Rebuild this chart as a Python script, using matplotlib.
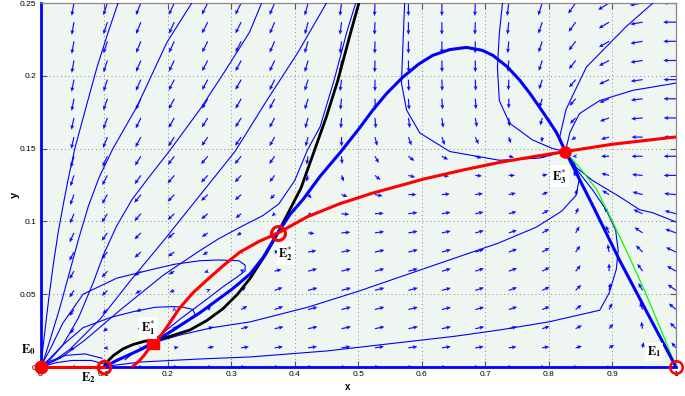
import numpy as np
import matplotlib
matplotlib.use("Agg")
import matplotlib.pyplot as plt

plt.rcParams['mathtext.fontset'] = 'stix'

# ---------------- data ----------------
x_ticks = [0, 0.1, 0.2, 0.3, 0.4, 0.5, 0.6, 0.7, 0.8, 0.9, 1.0]
x_tick_labels = ["0", "0.1", "0.2", "0.3", "0.4", "0.5", "0.6", "0.7", "0.8", "0.9", "1"]
y_ticks = [0, 0.05, 0.1, 0.15, 0.2, 0.25]
y_tick_labels = ["0", "0.05", "0.1", "0.15", "0.2", "0.25"]

# equilibria
eq_E0 = (0.0, 0.0)
eq_E2 = (0.1, 0.0)
eq_E1s = (0.177, 0.0165)
eq_E2s = (0.373, 0.0918)
eq_E3s = (0.826, 0.148)
eq_E1 = (1.0, 0.0)

# red curve
red_axis_x = [0.0, 0.1]
red_axis_y = [0.0, 0.0]
red_x = [0.144, 0.155, 0.163, 0.169, 0.177, 0.19, 0.199, 0.219, 0.24, 0.262, 0.29, 0.314, 0.345, 0.373,
         0.419, 0.47, 0.523, 0.565, 0.602, 0.667, 0.722, 0.78, 0.826, 0.9, 0.95, 1.0]
red_y = [0.0, 0.004, 0.008, 0.0117, 0.0165, 0.022, 0.0275, 0.0405, 0.051, 0.0598, 0.0705, 0.079, 0.0865, 0.0918,
         0.103, 0.112, 0.1195, 0.1245, 0.129, 0.1355, 0.1405, 0.1448, 0.148, 0.153, 0.1555, 0.158]

# black separatrix
black_x = [0.1, 0.107, 0.115, 0.13, 0.146, 0.165, 0.177, 0.2, 0.235, 0.262, 0.287, 0.31, 0.33, 0.356, 0.373,
           0.39, 0.41, 0.428, 0.45, 0.468, 0.487, 0.501]
black_y = [0.0, 0.0045, 0.008, 0.0125, 0.0155, 0.0178, 0.0178, 0.0205, 0.0254, 0.032, 0.040, 0.050, 0.061, 0.0785,
           0.0918, 0.106, 0.123, 0.145, 0.172, 0.197, 0.228, 0.25]

# thick blue curve
blue_x = [0.1, 0.12, 0.14, 0.16, 0.177, 0.2, 0.225, 0.25, 0.275, 0.3, 0.314, 0.33, 0.35, 0.373, 0.393, 0.413,
          0.44, 0.471, 0.5, 0.523, 0.545, 0.57, 0.595, 0.617, 0.644, 0.67, 0.695, 0.712, 0.735, 0.754, 0.77,
          0.785, 0.8, 0.812, 0.826, 0.87, 0.911, 0.955, 1.0]
blue_y = [0.0, 0.0045, 0.0085, 0.0125, 0.0165, 0.023, 0.030, 0.037, 0.045, 0.053, 0.058, 0.064, 0.075, 0.0918,
          0.105, 0.115, 0.131, 0.147, 0.163, 0.1765, 0.188, 0.199, 0.208, 0.214, 0.218, 0.2195, 0.2175, 0.214,
          0.206, 0.197, 0.188, 0.1786, 0.169, 0.161, 0.148, 0.110, 0.0735, 0.037, 0.0]

# green curve
green_x = [0.826, 0.85, 0.875, 0.9, 0.925, 0.95, 0.975, 1.0]
green_y = [0.148, 0.136, 0.122, 0.1, 0.077, 0.053, 0.027, 0.0]

# thin trajectories
t1_x = [0.122, 0.105, 0.089, 0.072, 0.054, 0.044, 0.036, 0.028, 0.02, 0.013, 0.007, 0.003, 0.0]
t1_y = [0.25, 0.228, 0.206, 0.179, 0.150, 0.130, 0.112, 0.093, 0.070, 0.047, 0.025, 0.01, 0.0]
t2_x = [0.238, 0.199, 0.152, 0.114, 0.092, 0.075, 0.06, 0.045, 0.03, 0.016, 0.006, 0.0]
t2_y = [0.25, 0.223, 0.179, 0.150, 0.130, 0.110, 0.088, 0.064, 0.040, 0.02, 0.006, 0.0]
t3_x = [0.348, 0.329, 0.29, 0.251, 0.204, 0.17, 0.144, 0.12, 0.10, 0.083, 0.06, 0.035, 0.015, 0.0]
t3_y = [0.25, 0.23, 0.203, 0.177, 0.149, 0.13, 0.115, 0.097, 0.078, 0.058, 0.034, 0.015, 0.005, 0.0]
t4_x = [0.450, 0.405, 0.356, 0.306, 0.251, 0.196, 0.141, 0.094, 0.046, 0.02, 0.0]
t4_y = [0.25, 0.216, 0.183, 0.148, 0.118, 0.088, 0.059, 0.033, 0.012, 0.004, 0.0]
t5_x = [0.496, 0.482, 0.462, 0.44, 0.42, 0.40, 0.375, 0.35, 0.314, 0.28, 0.251, 0.193, 0.125, 0.07, 0.031, 0.0]
t5_y = [0.25, 0.23, 0.197, 0.165, 0.149, 0.128, 0.112, 0.104, 0.096, 0.088, 0.080, 0.063, 0.039, 0.0185, 0.006, 0.0]
loop_big_x = [0.18, 0.22, 0.26, 0.29, 0.31, 0.322, 0.322, 0.312, 0.28, 0.251, 0.21, 0.172, 0.12, 0.067, 0.035, 0.015, 0.0]
loop_big_y = [0.019, 0.033, 0.046, 0.056, 0.062, 0.066, 0.070, 0.073, 0.0735, 0.073, 0.0705, 0.0666, 0.061, 0.050, 0.030, 0.012, 0.0]
loop_small_x = [0.133, 0.146, 0.165, 0.188, 0.21, 0.23, 0.243, 0.24, 0.225, 0.209, 0.18, 0.146, 0.11, 0.067, 0.035, 0.015, 0.0]
loop_small_y = [0.005, 0.0096, 0.0145, 0.0195, 0.025, 0.031, 0.036, 0.0395, 0.041, 0.0415, 0.041, 0.038, 0.034, 0.027, 0.015, 0.006, 0.0]
low_a_x = [0.1, 0.08, 0.05, 0.025, 0.0]
low_a_y = [0.002, 0.0045, 0.0045, 0.003, 0.0]
low_b_x = [0.097, 0.07, 0.04, 0.015, 0.0]
low_b_y = [0.006, 0.009, 0.008, 0.004, 0.0]
m_x = [0.177, 0.22, 0.27, 0.33, 0.42, 0.50, 0.58, 0.66, 0.72, 0.78, 0.82, 0.843, 0.848, 0.84, 0.826]
m_y = [0.0165, 0.022, 0.027, 0.031, 0.041, 0.052, 0.064, 0.076, 0.085, 0.096, 0.107, 0.118, 0.13, 0.14, 0.148]
n_x = [0.103, 0.157, 0.25, 0.33, 0.45, 0.55, 0.65, 0.722, 0.8, 0.88, 0.895, 0.906, 0.909, 0.905, 0.89, 0.869, 0.843, 0.826]
n_y = [0.0005, 0.0034, 0.0055, 0.0069, 0.011, 0.016, 0.021, 0.0254, 0.031, 0.039, 0.051, 0.067, 0.08, 0.094, 0.108, 0.1215, 0.136, 0.148]
u1_x = [0.573, 0.570, 0.568, 0.576, 0.597, 0.644, 0.722, 0.785, 0.826]
u1_y = [0.25, 0.218, 0.195, 0.1765, 0.1607, 0.148, 0.142, 0.1435, 0.148]
u2_x = [0.727, 0.722, 0.719, 0.722, 0.738, 0.774, 0.806, 0.826]
u2_y = [0.25, 0.229, 0.206, 0.183, 0.1675, 0.156, 0.150, 0.148]
r1_x = [0.969, 0.922, 0.859, 0.827, 0.817, 0.826]
r1_y = [0.252, 0.234, 0.206, 0.177, 0.158, 0.148]
r2_x = [1.0, 0.932, 0.88, 0.848, 0.833, 0.826]
r2_y = [0.195, 0.19, 0.183, 0.174, 0.161, 0.148]
r3_x = [1.0, 0.963, 0.943, 0.911, 0.869, 0.843, 0.826]
r3_y = [0.0996, 0.106, 0.108, 0.117, 0.128, 0.137, 0.148]

thin_traj = [(t1_x, t1_y), (t2_x, t2_y), (t3_x, t3_y), (t4_x, t4_y), (t5_x, t5_y),
             (loop_big_x, loop_big_y), (loop_small_x, loop_small_y), (low_a_x, low_a_y), (low_b_x, low_b_y),
             (m_x, m_y), (n_x, n_y), (u1_x, u1_y), (u2_x, u2_y), (r1_x, r1_y), (r2_x, r2_y), (r3_x, r3_y)]

# direction field (screen angle in degrees, relative length), rows from y=0 to y=0.25
arrow_angle_deg = [
    [0, 180, 0, 0, 0, 0, 0, 0, 0, 0, 0, 0, 0, 0, 0, 0, 0, 0, 0, 0],
    [-90, -150, -170, 0, 10, 10, 8, 8, 8, 8, 8, 8, 8, 8, 8, 10, 15, 30, 80, 130],
    [-90, -130, -150, -175, 45, 20, 15, 12, 12, 12, 12, 12, 12, 12, 14, 18, 28, 50, 100, 135],
    [-90, -125, -140, -155, 90, 45, 30, 20, 15, 15, 15, 14, 14, 15, 18, 22, 38, 65, 110, 140],
    [-90, -122, -135, -148, -158, 20, 35, 20, 15, 15, 15, 15, 15, 18, 20, 25, 45, 80, 120, 145],
    [-90, -120, -132, -142, -150, -160, 30, 15, 15, 15, 15, 15, 16, 18, 20, 28, 50, 90, 125, 150],
    [-90, -118, -130, -138, -145, -150, -170, 10, 10, 12, 12, 14, 15, 18, 20, 30, 55, 100, 135, 155],
    [-90, -115, -126, -134, -140, -145, -150, 0, -5, 5, 8, 10, 12, 15, 18, 30, 60, 115, 145, 160],
    [-90, -112, -123, -131, -137, -140, -142, -140, -20, -5, 3, 8, 10, 12, 15, 30, 65, 130, 155, 165],
    [-90, -110, -120, -128, -133, -136, -138, -135, -45, -20, -10, 0, 5, 8, 12, 25, 75, 150, 165, 175],
    [-90, -108, -118, -125, -130, -133, -133, -128, -105, -70, -40, -15, -8, -5, 0, 10, 120, 165, 175, 180],
    [-90, -105, -115, -122, -127, -130, -130, -125, -100, -85, -60, -38, -28, -18, -12, -12, 180, 180, 180, 180],
    [-90, -103, -112, -118, -123, -125, -125, -120, -105, -90, -75, -70, -70, -65, -70, -95, -145, -165, 180, 180],
    [-90, -102, -110, -116, -120, -122, -122, -118, -106, -94, -85, -82, -82, -80, -85, -105, -135, -160, -175, 180],
    [-90, -101, -109, -115, -118, -120, -120, -117, -107, -96, -88, -86, -86, -86, -90, -108, -132, -158, -173, 180],
    [-90, -101, -108, -114, -117, -119, -119, -116, -107, -97, -90, -88, -88, -88, -92, -108, -130, -155, -172, 180],
    [-90, -100, -108, -113, -116, -118, -118, -115, -106, -97, -91, -89, -89, -90, -94, -108, -128, -152, -171, 180],
    [-90, -100, -108, -112, -115, -117, -117, -114, -106, -97, -91, -90, -90, -91, -95, -108, -127, -150, -170, 180],
    [-90, -100, -108, -112, -115, -117, -117, -113, -105, -97, -92, -90, -90, -92, -96, -108, -126, -149, -170, 180],
    [-90, -100, -108, -112, -115, -117, -117, -113, -105, -97, -92, -90, -90, -92, -97, -108, -125, -148, -170, 180],
]
arrow_len = [
    [0, 0.25, 0.1, 0.2, 0.3, 0.35, 0.35, 0.35, 0.35, 0.35, 0.35, 0.35, 0.35, 0.3, 0.3, 0.25, 0.2, 0.15, 0.1, 0],
    [0.2, 0.4, 0.3, 0.15, 0.35, 0.5, 0.6, 0.65, 0.7, 0.7, 0.7, 0.7, 0.7, 0.65, 0.6, 0.55, 0.5, 0.45, 0.45, 0.55],
    [0.3, 0.5, 0.4, 0.25, 0.3, 0.45, 0.6, 0.7, 0.75, 0.75, 0.75, 0.75, 0.72, 0.7, 0.65, 0.6, 0.55, 0.5, 0.55, 0.65],
    [0.35, 0.6, 0.5, 0.4, 0.2, 0.35, 0.55, 0.7, 0.75, 0.75, 0.75, 0.75, 0.72, 0.7, 0.68, 0.62, 0.58, 0.55, 0.6, 0.72],
    [0.4, 0.65, 0.6, 0.5, 0.4, 0.25, 0.45, 0.65, 0.75, 0.75, 0.75, 0.75, 0.72, 0.7, 0.68, 0.64, 0.6, 0.58, 0.65, 0.78],
    [0.4, 0.7, 0.65, 0.6, 0.5, 0.3, 0.3, 0.55, 0.72, 0.75, 0.75, 0.75, 0.72, 0.7, 0.68, 0.65, 0.6, 0.6, 0.7, 0.8],
    [0.45, 0.75, 0.7, 0.65, 0.6, 0.45, 0.2, 0.35, 0.65, 0.72, 0.75, 0.75, 0.72, 0.7, 0.68, 0.65, 0.6, 0.62, 0.72, 0.85],
    [0.45, 0.8, 0.75, 0.7, 0.65, 0.55, 0.4, 0.1, 0.5, 0.68, 0.72, 0.72, 0.7, 0.68, 0.66, 0.62, 0.58, 0.62, 0.75, 0.88],
    [0.45, 0.8, 0.8, 0.75, 0.7, 0.65, 0.55, 0.3, 0.4, 0.6, 0.68, 0.7, 0.68, 0.65, 0.62, 0.58, 0.52, 0.62, 0.78, 0.9],
    [0.45, 0.85, 0.82, 0.8, 0.75, 0.7, 0.65, 0.5, 0.4, 0.5, 0.6, 0.62, 0.62, 0.6, 0.56, 0.5, 0.45, 0.62, 0.8, 0.92],
    [0.45, 0.88, 0.85, 0.82, 0.8, 0.75, 0.72, 0.65, 0.5, 0.5, 0.55, 0.55, 0.55, 0.52, 0.48, 0.42, 0.35, 0.62, 0.82, 0.95],
    [0.45, 0.9, 0.88, 0.85, 0.82, 0.8, 0.78, 0.72, 0.65, 0.6, 0.6, 0.58, 0.55, 0.5, 0.42, 0.3, 0.25, 0.62, 0.85, 0.95],
    [0.45, 0.92, 0.9, 0.88, 0.85, 0.82, 0.82, 0.8, 0.75, 0.72, 0.7, 0.68, 0.65, 0.6, 0.5, 0.4, 0.4, 0.65, 0.85, 0.95],
    [0.45, 0.93, 0.92, 0.9, 0.88, 0.86, 0.85, 0.85, 0.82, 0.8, 0.8, 0.78, 0.76, 0.72, 0.66, 0.6, 0.62, 0.75, 0.88, 0.95],
    [0.45, 0.95, 0.94, 0.92, 0.9, 0.88, 0.88, 0.88, 0.86, 0.85, 0.85, 0.84, 0.82, 0.8, 0.75, 0.7, 0.72, 0.8, 0.9, 0.96],
    [0.45, 0.96, 0.95, 0.94, 0.92, 0.9, 0.9, 0.9, 0.9, 0.9, 0.9, 0.88, 0.87, 0.85, 0.82, 0.78, 0.78, 0.84, 0.92, 0.97],
    [0.45, 0.97, 0.96, 0.95, 0.94, 0.93, 0.93, 0.93, 0.93, 0.93, 0.92, 0.92, 0.9, 0.9, 0.88, 0.85, 0.84, 0.88, 0.94, 0.98],
    [0.45, 0.98, 0.97, 0.96, 0.96, 0.95, 0.95, 0.95, 0.95, 0.95, 0.95, 0.95, 0.94, 0.93, 0.92, 0.9, 0.88, 0.9, 0.95, 0.98],
    [0.45, 0.99, 0.98, 0.98, 0.97, 0.97, 0.97, 0.97, 0.97, 0.97, 0.97, 0.97, 0.97, 0.96, 0.95, 0.93, 0.92, 0.93, 0.96, 0.99],
    [0.45, 1, 1, 1, 1, 1, 1, 1, 1, 1, 1, 1, 1, 1, 1, 1, 1, 1, 1, 1],
]

# ---------------- figure ----------------
W, H = 685, 396
fig = plt.figure(figsize=(W / 100, H / 100), dpi=100)
ax = fig.add_axes([40.5 / W, 29 / H, 635.5 / W, 364 / H])
ax.set_facecolor('#eff5f1')
ax.set_xlim(0, 1)
ax.set_ylim(0, 0.25)

BLUE = '#0000ff'

# direction field
gx, gy = np.meshgrid(np.linspace(0, 1, 20), np.linspace(0, 0.25, 20))
ang = np.radians(np.array(arrow_angle_deg, dtype=float))
ln = np.array(arrow_len, dtype=float)
mask = ln > 0
U = ln * np.cos(ang) * 13
V = ln * np.sin(ang) * 13
ax.quiver(gx[mask], gy[mask], U[mask], V[mask], angles='uv', scale_units='dots', scale=1,
          units='dots', width=1.2, headwidth=3.4, headlength=3.8, headaxislength=3.3,
          minlength=0.3, minshaft=0.5, color='#1010ff', pivot='tail', zorder=2)

# thin trajectories
for tx, ty in thin_traj:
    ax.plot(tx, ty, color=BLUE, lw=0.8, zorder=3)

ax.plot(green_x, green_y, color='#00ff00', lw=0.9, zorder=4)
ax.plot(black_x, black_y, color='black', lw=2.0, zorder=4)
ax.plot(blue_x, blue_y, color=BLUE, lw=2.2, zorder=5)
ax.plot(red_x, red_y, color='#ff0000', lw=2.2, zorder=6)
ax.plot(red_axis_x, red_axis_y, color='#ff0000', lw=2.2, zorder=6, clip_on=False)

# equilibria markers
ax.plot(*eq_E0, 'o', ms=9, color='#ff0000', zorder=8, clip_on=False)
ax.plot(*eq_E2, 'o', ms=9, mfc='none', mec='#ff0000', mew=2.2, zorder=8, clip_on=False)
ax.plot(*eq_E1s, 's', ms=8, color='#ff0000', zorder=8)
ax.plot(*eq_E2s, 'o', ms=10, mfc='none', mec='#ff0000', mew=2.2, zorder=8)
ax.plot(*eq_E3s, 'o', ms=8, color='#ff0000', zorder=8)
ax.plot(*eq_E1, 'o', ms=9, mfc='none', mec='#ff0000', mew=1.8, zorder=8, clip_on=False)

# labels
box = dict(boxstyle='square,pad=0.15', fc='white', ec='none')
lab_kw = dict(fontsize=9, ha='center', va='center', zorder=9, clip_on=False)
ax.text(-0.0197, 0.0117, r'$\mathbf{E}_{\mathbf{0}}$', **lab_kw)
ax.text(0.075, -0.0076, r'$\mathbf{E}_{\mathbf{2}}$', **lab_kw)
ax.text(0.169, 0.0268, r'$\mathbf{E}_{\mathbf{1}}^{*}$', bbox=box, **lab_kw)
ax.text(0.386, 0.078, r'$\mathbf{E}_{\mathbf{2}}^{*}$', bbox=box, **lab_kw)
ax.text(0.817, 0.131, r'$\mathbf{E}_{\mathbf{3}}^{*}$', bbox=box, **lab_kw)
ax.text(0.966, 0.0103, r'$\mathbf{E}_{\mathbf{1}}$', bbox=box, **lab_kw)

ax.text(0.484, -0.0137, 'x', fontsize=7, fontweight='bold', ha='center', va='center', clip_on=False,
        family='Liberation Sans')
ax.text(-0.040, 0.118, 'y', fontsize=8, fontweight='bold', ha='center', va='center', rotation=90,
        clip_on=False, family='Liberation Sans')

# axes styling
ax.set_xticks(x_ticks)
ax.set_xticklabels(x_tick_labels)
ax.set_yticks(y_ticks)
ax.set_yticklabels(y_tick_labels)
ax.tick_params(direction='in', top=True, right=True, length=4, width=0.8, color='#555555',
               labelsize=6, pad=3)
for lbl in ax.get_xticklabels() + ax.get_yticklabels():
    lbl.set_family('Liberation Sans')
ax.grid(True, linestyle=(0, (1, 3)), color='#888888', lw=0.7)
ax.set_axisbelow(True)
for s in ['top', 'right']:
    ax.spines[s].set_color('#888888')
    ax.spines[s].set_linewidth(0.9)
for s in ['left', 'bottom']:
    ax.spines[s].set_color(BLUE)
    ax.spines[s].set_linewidth(2.0)

fig.savefig('out.png', dpi=100)
